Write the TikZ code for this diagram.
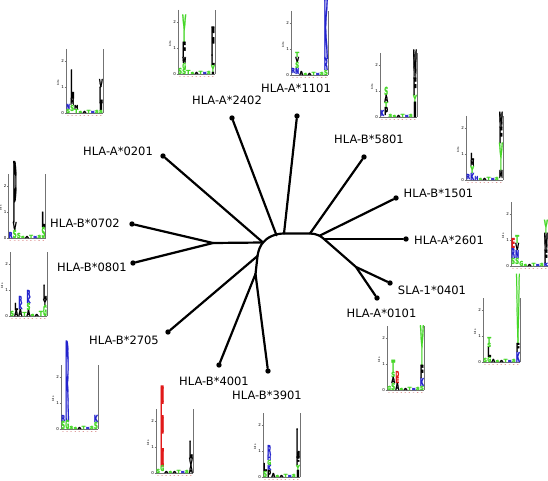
\documentclass[tikz,border=0pt]{standalone}
\usepackage{fontspec}
\usepackage{graphicx}
\setmainfont{DejaVu Sans}
\newfontfamily\logofont{DejaVu Sans}[FakeBold=3]
\definecolor{lgreen}{RGB}{70,215,40}
\definecolor{lblue}{RGB}{35,35,205}
\definecolor{lred}{RGB}{225,25,25}
\newcommand\lgl[5]{\node[inner sep=0pt,outer sep=0pt,anchor=south west] at ({(#1-1)*4.1+0.2},{-(#2)}) {\resizebox{3.8pt}{#3pt}{\textcolor{#4}{\logofont\bfseries #5}}};}
\newcommand\logoaxes{%
 \draw[axl] (0,-64) -- (0,0) -- (37,0);
 \draw[axl] (37,0) -- (37,-64);
 \foreach \t in {0,1,2}{\draw[axl] (-1.3,-26*\t) -- (0,-26*\t); \node[tickl] at (-3.4,-26*\t) {\t};}
 \node[bitsl] at (-8,-30) {bits};
 \foreach \i in {1,...,9}{\node[posl] at ({(\i-0.5)*4.1},3.2) {\i};}
}
\newcommand\fuzzstd{\lgl{4}{0}{2}{lgreen}{S}\lgl{5}{0}{2}{black}{A}\lgl{6}{0}{3}{lgreen}{T}\lgl{7}{0}{2}{lblue}{K}\lgl{8}{0}{3}{lgreen}{S}}
\newcommand\logo[3]{\begin{scope}[shift={(#1,#2)}]\logoaxes #3\end{scope}}
\begin{document}
\begin{tikzpicture}[x=1pt,y=-1pt,
 axl/.style={draw=black!55,line width=0.5pt},
 tickl/.style={font=\fontsize{4}{4}\selectfont,inner sep=0pt},
 bitsl/.style={font=\fontsize{2.8}{3}\selectfont,rotate=90,inner sep=0pt},
 posl/.style={font=\fontsize{1.8}{2}\selectfont,rotate=90,inner sep=0pt,text=red!70!black},
 branch/.style={line width=2.2pt,line join=round,line cap=round},
 leaf/.style={circle,fill=black,inner sep=0pt,minimum size=5.4pt},
 lab/.style={font=\fontsize{11.5}{13}\selectfont,inner sep=0pt}]
\useasboundingbox[fill=white] (0,0) rectangle (548,481);
% leaves
\node[leaf] (lA0201) at (163,156) {};
\node[leaf] (lB0702) at (132,224) {};
\node[leaf] (lB0801) at (133,263) {};
\node[leaf] (lA2402) at (232,118) {};
\node[leaf] (lA1101) at (297,116) {};
\node[leaf] (lB5801) at (364,157) {};
\node[leaf] (lB1501) at (396,198) {};
\node[leaf] (lA2601) at (406,239) {};
\node[leaf] (lSLA) at (390,283) {};
\node[leaf] (lA0101) at (377,298) {};
\node[leaf] (lB2705) at (168,332) {};
\node[leaf] (lB4001) at (219,365) {};
\node[leaf] (lB3901) at (268,371) {};
% internal points
\coordinate (r) at (263,242.5);
\coordinate (j1) at (213,243);
\coordinate (a1) at (276.5,235.3);
\coordinate (a2) at (284,233.5);
\coordinate (a3) at (310,233.5);
\coordinate (a4) at (320,235.5);
\coordinate (a5) at (324,239);
\coordinate (s1) at (356,267);
\coordinate (d1) at (257.5,256);
\coordinate (s2) at (255.5,274);
% tree
\draw[branch] (s2) -- (d1) .. controls (258.5,250) and (260,246) .. (r)
  .. controls (267,237.5) and (275,233.5) .. (a2) -- (a3)
  .. controls (316,233.5) and (321,236) .. (a5) -- (s1) -- (lA0101);
\draw[branch] (lB0702) -- (j1) -- (lB0801);
\draw[branch] (j1) -- (r);
\draw[branch] (lA0201) -- (r);
\draw[branch] (lA2402) -- (a1);
\draw[branch] (lA1101) -- (a2);
\draw[branch] (lB5801) -- (a3);
\draw[branch] (lB1501) -- (a4);
\draw[branch] (lA2601) -- (a5);
\draw[branch] (s1) -- (lSLA);
\draw[branch] (lB2705) -- (d1);
\draw[branch] (s2) -- (lB4001);
\draw[branch] (s2) -- (lB3901);
% labels
\node[lab] (tA0201) at (118,151) {HLA-A*0201};
\node[lab] (tB0702) at (85,223) {HLA-B*0702};
\node[lab] (tA2402) at (227,100) {HLA-A*2402};
\node[lab] (tA1101) at (296,88) {HLA-A*1101};
\node[lab] (tB5801) at (369,139) {HLA-B*5801};
\node[lab] (tB1501) at (438.5,193) {HLA-B*1501};
\node[lab] (tA2601) at (449,240) {HLA-A*2601};
\node[lab] (tSLA) at (432,290) {SLA-1*0401};
\node[lab] (tA0101) at (381.5,313) {HLA-A*0101};
\node[lab] (tB0801) at (92,267) {HLA-B*0801};
\node[lab] (tB2705) at (124,340) {HLA-B*2705};
\node[lab] (tB4001) at (214,381) {HLA-B*4001};
\node[lab] (tB3901) at (267,395) {HLA-B*3901};
% logos
\logo{66}{113}{\fuzzstd\lgl{2}{15}{28}{black}{L}\lgl{2}{8}{7}{black}{M}\lgl{2}{2}{6}{lgreen}{S}\lgl{1}{4}{5}{lblue}{N}\lgl{1}{0}{4}{lgreen}{S}\lgl{3}{4}{4}{black}{M}\lgl{3}{0}{4}{lgreen}{T}\lgl{9}{26}{8}{black}{V}\lgl{9}{10}{16}{black}{L}\lgl{9}{3}{7}{black}{I}\lgl{9}{0}{3}{lgreen}{S}}
\logo{178}{74}{\fuzzstd\lgl{2}{32}{27}{lgreen}{Y}\lgl{2}{17}{15}{black}{F}\lgl{2}{11}{6}{black}{W}\lgl{2}{5}{6}{lgreen}{G}\lgl{2}{0}{5}{lgreen}{S}\lgl{1}{0}{6}{lgreen}{S}\lgl{3}{0}{4}{lgreen}{T}\lgl{9}{19}{28}{black}{F}\lgl{9}{9}{10}{black}{L}\lgl{9}{2}{7}{lgreen}{Y}\lgl{9}{0}{2}{black}{I}}
\logo{291}{75}{\fuzzstd\lgl{9}{17}{58}{lblue}{K}\lgl{9}{5}{12}{lblue}{R}\lgl{9}{0}{5}{lgreen}{S}\lgl{2}{18}{5}{lgreen}{T}\lgl{2}{13}{5}{black}{V}\lgl{2}{7}{6}{lgreen}{S}\lgl{2}{1}{6}{lblue}{N}\lgl{1}{2}{5}{lblue}{R}\lgl{3}{0}{4}{black}{A}}
\logo{380}{117}{\fuzzstd\lgl{9}{39}{28}{black}{W}\lgl{9}{22}{17}{black}{F}\lgl{9}{15}{7}{lgreen}{Y}\lgl{9}{0}{15}{black}{I}\lgl{2}{22}{8}{lgreen}{S}\lgl{2}{15}{7}{black}{A}\lgl{2}{10}{5}{lgreen}{T}\lgl{2}{2}{8}{black}{P}\lgl{1}{1}{6}{lblue}{K}\lgl{3}{0}{3}{lgreen}{S}}
\logo{466}{180}{\fuzzstd\lgl{9}{53}{15}{black}{W}\lgl{9}{37}{16}{black}{F}\lgl{9}{10}{27}{lgreen}{Y}\lgl{9}{2}{8}{black}{M}\lgl{2}{20}{7}{black}{L}\lgl{2}{14}{6}{black}{M}\lgl{2}{7}{7}{lgreen}{Y}\lgl{2}{0}{7}{lblue}{K}\lgl{1}{1}{5}{lblue}{R}\lgl{3}{0}{4}{lblue}{H}}
\logo{511}{266}{\fuzzstd\lgl{9}{33}{13}{lgreen}{Y}\lgl{9}{16}{17}{black}{W}\lgl{9}{3}{13}{black}{F}\lgl{9}{0}{3}{lblue}{K}\lgl{1}{18}{10}{lred}{E}\lgl{1}{8}{10}{lblue}{R}\lgl{1}{2}{6}{lgreen}{S}\lgl{2}{23}{8}{lgreen}{T}\lgl{2}{16}{7}{black}{V}\lgl{2}{8}{8}{lblue}{N}\lgl{2}{2}{6}{lgreen}{S}\lgl{3}{0}{5}{lgreen}{G}}
\logo{483}{362}{\fuzzstd\lgl{9}{19}{68}{lgreen}{V}\lgl{9}{10}{9}{black}{F}\lgl{9}{0}{10}{lblue}{K}\lgl{2}{19}{6}{lgreen}{T}\lgl{2}{15}{4}{lgreen}{S}\lgl{2}{5}{10}{black}{L}\lgl{2}{0}{5}{lgreen}{G}\lgl{1}{0}{4}{lgreen}{S}\lgl{3}{0}{3}{black}{A}}
\logo{387}{390}{\fuzzstd\lgl{9}{25}{39}{lgreen}{Y}\lgl{9}{12}{13}{black}{F}\lgl{9}{4}{8}{lblue}{K}\lgl{9}{0}{4}{lgreen}{S}\lgl{2}{18}{12}{lgreen}{T}\lgl{2}{13}{5}{lgreen}{S}\lgl{2}{7}{6}{black}{A}\lgl{2}{0}{7}{lgreen}{S}\lgl{3}{13}{6}{lred}{D}\lgl{3}{7}{6}{lred}{E}\lgl{3}{0}{7}{black}{A}\lgl{1}{0}{4}{lgreen}{G}}
\logo{263}{477}{\fuzzstd\lgl{2}{22}{10}{lblue}{R}\lgl{2}{17}{5}{lblue}{H}\lgl{2}{12}{5}{lgreen}{G}\lgl{2}{7}{5}{lblue}{K}\lgl{2}{0}{7}{black}{P}\lgl{1}{6}{8}{black}{L}\lgl{1}{0}{6}{lgreen}{S}\lgl{3}{0}{4}{black}{A}\lgl{9}{20}{28}{black}{L}\lgl{9}{12}{8}{black}{F}\lgl{9}{7}{5}{lgreen}{Y}\lgl{9}{0}{7}{black}{I}}
\logo{156}{473}{\fuzzstd\lgl{2}{8}{78}{lred}{E}\lgl{2}{2}{6}{lgreen}{G}\lgl{1}{0}{4}{lgreen}{S}\lgl{3}{0}{2}{black}{A}\lgl{9}{15}{17}{black}{L}\lgl{9}{8}{7}{black}{V}\lgl{9}{0}{8}{black}{A}}
\logo{61}{429}{\fuzzstd\lgl{2}{9}{78}{lblue}{R}\lgl{2}{0}{9}{lgreen}{G}\lgl{1}{8}{6}{lblue}{R}\lgl{1}{0}{8}{lgreen}{S}\lgl{3}{0}{3}{lgreen}{S}\lgl{9}{7}{7}{lblue}{K}\lgl{9}{0}{7}{lgreen}{S}}
\logo{10}{316}{\lgl{3}{13}{7}{lblue}{R}\lgl{3}{7}{6}{lblue}{K}\lgl{3}{0}{7}{black}{A}\lgl{5}{19}{7}{lblue}{R}\lgl{5}{13}{6}{lblue}{K}\lgl{5}{6}{7}{lgreen}{S}\lgl{5}{0}{6}{black}{A}\lgl{2}{6}{7}{black}{L}\lgl{2}{0}{6}{black}{A}\lgl{1}{0}{5}{lgreen}{S}\lgl{4}{0}{4}{lgreen}{T}\lgl{6}{0}{2}{lgreen}{S}\lgl{7}{0}{2}{black}{A}\lgl{8}{0}{5}{lgreen}{T}\lgl{9}{17}{14}{black}{L}\lgl{9}{11}{6}{black}{Y}\lgl{9}{0}{11}{lgreen}{G}}
\logo{8.5}{238}{\fuzzstd\lgl{2}{16}{60}{black}{P}\lgl{2}{8}{8}{black}{V}\lgl{2}{0}{8}{lgreen}{S}\lgl{1}{0}{6}{lblue}{R}\lgl{3}{0}{5}{lgreen}{S}\lgl{9}{11}{15}{black}{L}\lgl{9}{0}{11}{lgreen}{S}}
\end{tikzpicture}
\end{document}
